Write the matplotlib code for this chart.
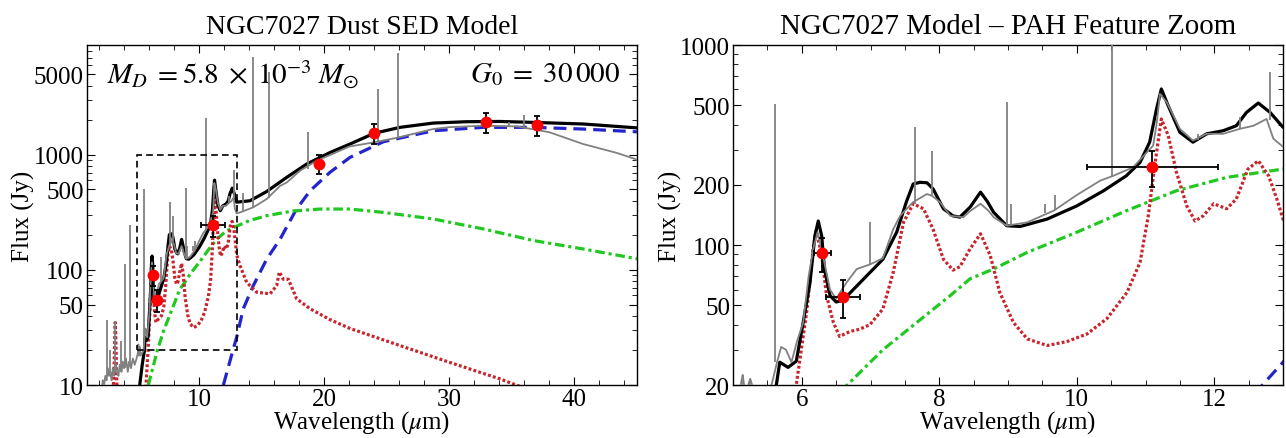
import numpy as np
import matplotlib
matplotlib.use("Agg")
from matplotlib import pyplot as plt
from matplotlib.patches import Rectangle
from matplotlib.ticker import FixedLocator, MultipleLocator, NullFormatter

plt.rcParams['font.family'] = 'serif'
plt.rcParams['font.serif'] = ['Liberation Serif', 'DejaVu Serif']
plt.rcParams['mathtext.fontset'] = 'stix'

obs_wl = [2.2, 2.3, 2.4, 2.5, 2.6, 2.7, 2.8, 2.9, 3.0, 3.1, 3.2, 3.35, 3.45, 3.55,
          3.65, 3.8, 3.9, 4.0, 4.15, 4.3, 4.4, 4.55, 4.7, 4.85, 5.0, 5.1, 5.14,
          5.18, 5.25, 5.32, 5.45, 5.56, 5.64, 5.70, 5.77, 5.85, 5.93, 6.02, 6.10,
          6.17, 6.23, 6.31, 6.41, 6.50, 6.65, 6.80, 6.99, 7.18, 7.33, 7.43, 7.55,
          7.62, 7.82, 7.90, 8.01, 8.16, 8.35, 8.45, 8.60, 8.72, 8.79, 8.98, 9.28,
          9.67, 10.0, 10.34, 10.53, 10.82, 11.02, 11.11, 11.16, 11.21, 11.31,
          11.50, 11.69, 11.89, 12.13, 12.37, 12.57, 12.76, 12.86, 13.0, 13.27,
          14.33, 15.4, 16.47, 17.0, 18.07, 19.4, 20.5, 22.0, 24.0, 26.0, 28.7,
          30.0, 32.7, 35.4, 38.0, 40.7, 43.4, 44.85, 45.0]
obs_flux = [9, 11, 10, 12, 11, 14, 12, 13, 11, 14, 12, 15, 13, 12,
            15, 13, 16, 14, 17, 13, 16, 14, 17, 15, 17, 19, 22.5,
            18, 21.5, 18, 19, 20, 26, 31, 30, 26, 33, 41, 70,
            97, 116, 88, 60, 54, 65, 76, 80, 86, 120, 140, 155,
            164, 180, 176, 164, 140, 138, 148, 161, 148, 138, 125, 130,
            149, 178, 210, 222, 245, 291, 314, 400, 570, 517,
            381, 333, 360, 360, 381, 395, 427, 340, 310, 316,
            350, 413, 537, 575, 728, 889, 1000, 1180, 1285, 1420, 1675,
            1740, 1791, 1766, 1571, 1241, 1038, 920, 900]

# emission lines in the observed spectrum
line_wl = [2.63, 2.88, 3.28, 3.74, 4.05, 4.49, 5.14, 5.25, 5.61, 6.99, 7.65, 7.90,
           8.99, 9.04, 9.54, 9.69, 10.51, 11.76, 12.37, 12.81, 13.5, 14.32,
           15.55, 18.71, 24.32, 25.89, 34.8, 36.01]
line_base = [12, 12, 13, 13, 14, 15, 19, 18, 26, 80, 160, 178,
             125, 125, 145, 150, 222, 335, 381, 420, 320, 350,
             420, 760, 1285, 1410, 1780, 1730]
line_peak = [37, 20, 36, 24, 112, 245, 22.5, 21.5, 505, 130, 390, 297,
             518, 161, 161, 178, 2070, 360, 436, 731, 470, 7030,
             5200, 1570, 3730, 7650, 1940, 2220]

# total model
tot_wl = [5.2, 5.45, 5.63, 5.68, 5.80, 5.92, 6.02, 6.12, 6.19, 6.24, 6.29, 6.33,
          6.41, 6.50, 6.60, 6.75, 6.94, 7.18, 7.38, 7.52, 7.62, 7.72, 7.82, 7.91,
          8.06, 8.20, 8.30, 8.45, 8.60, 8.70, 8.79, 8.98, 9.18, 9.57, 10.0, 10.39,
          10.72, 10.92, 11.06, 11.16, 11.23, 11.33, 11.50, 11.69, 11.89, 12.13,
          12.32, 12.47, 12.64, 12.81, 13.0, 14.07, 15.4, 17.0, 18.6, 20.46,
          22.06, 24.0, 26.06, 28.72, 31.39, 34.0, 36.72, 40.71, 45.0]
tot_flux = [9, 15, 20, 26, 24.5, 26.3, 41, 65, 111, 132, 111, 76,
            56, 52, 53, 60, 70, 85, 116, 164, 202, 206, 205, 191,
            152, 140, 138, 155, 184, 165, 146, 125, 124, 135, 157, 187,
            222, 259, 327, 479, 603, 497, 366, 327, 360, 373,
            395, 461, 513, 461, 388, 399, 480, 637, 832, 1047,
            1241, 1540, 1733, 1888, 1940, 1950, 1914, 1853, 1715]

# PAH component
pah_wl = [3.0, 3.2, 3.27, 3.29, 3.33, 3.4, 3.55, 5.5, 5.75, 5.92, 6.07, 6.17, 6.21,
          6.29, 6.36, 6.46, 6.55, 6.70, 6.84, 6.99, 7.18, 7.33, 7.48, 7.62, 7.77,
          7.91, 8.06, 8.20, 8.30, 8.45, 8.60, 8.74, 8.88, 9.08, 9.28, 9.57, 9.86,
          10.15, 10.44, 10.73, 10.92, 11.04, 11.14, 11.23, 11.33, 11.45, 11.60,
          11.72, 11.84, 11.99, 12.18, 12.32, 12.49, 12.64, 12.79, 12.91, 13.0,
          13.27, 13.8, 14.6, 15.67, 16.2, 16.41, 16.73, 17.13, 17.8, 18.87,
          20.46, 22.06, 26.06, 30.05, 34.05, 36.0]
pah_flux = [4, 14, 30, 35, 28, 12, 4, 5, 10, 20, 46, 99, 118,
            89, 56, 41, 35, 37, 38, 40, 48, 73, 130, 161, 152,
            120, 85, 75, 78, 96, 114, 89, 58, 41, 34, 31.5, 33,
            36, 43, 58, 82, 140, 259, 427, 353, 231, 157,
            132, 140, 161, 152, 170, 240, 264, 222, 170, 135,
            109, 78, 64, 62, 73, 96, 83, 83, 56, 46,
            37, 31, 22, 15.7, 11.3, 9.4]

# very small grains
vsg_wl = [5.94, 6.66, 7.18, 7.67, 8.16, 8.45, 8.79, 9.28, 10.0, 10.73, 11.45, 12.18,
          13.0, 14.0, 15.4, 17.5, 19.66, 22.06, 24.73, 28.72, 32.72, 36.72,
          40.71, 45.0]
vsg_flux = [10, 20, 30, 41, 56, 68, 76, 92, 116, 149, 187, 218,
            240, 268, 296, 325, 338, 338, 316, 277, 227, 180,
            152, 125]

# big grains
bg_wl = [11.94, 12.70, 13.0, 13.53, 14.33, 15.4, 16.47, 17.75, 18.87, 20.46, 22.06,
         24.73, 28.72, 32.72, 36.72, 40.71, 45.0]
bg_flux = [10, 20, 26, 46, 73, 124, 185, 333, 487, 705, 950,
           1300, 1620, 1733, 1733, 1675, 1585]

# photometry points
pts_wl = [6.3, 6.6, 11.1, 19.6, 24.0, 32.9, 37.0]
pts_flux = [91, 55, 245, 840, 1540, 1920, 1820]
pts_wl_err = [0.12, 0.25, 0.95, 0, 0, 0, 0]
pts_flux_err = [18, 12, 50, 165, 310, 385, 365]

full_xlim = (1, 45)
full_ylim = (10, 9000)
zoom_xlim = (5, 13)
zoom_ylim = (20, 1000)

fig = plt.figure(figsize=(12.86, 4.39), dpi=100)
ax1 = fig.add_axes([0.0673, 0.1207, 0.428, 0.7745])
ax2 = fig.add_axes([0.570, 0.1207, 0.4277, 0.7745])


def draw(ax):
    ax.plot(bg_wl, bg_flux, color='#2424cc', lw=2.3, dashes=(4, 2.2), zorder=2)
    ax.plot(vsg_wl, vsg_flux, color='#22c822', lw=2.3, dashes=(3, 1.2, 1, 1.2), zorder=2)
    ax.plot(pah_wl, pah_flux, color='#c8242c', lw=2.3, dashes=(0.9, 0.7), zorder=2)
    ax.plot(tot_wl, tot_flux, color='k', lw=2.3, zorder=3)
    ax.plot(obs_wl, obs_flux, color='#808080', lw=1.3, zorder=4)
    ax.vlines(line_wl, line_base, line_peak, color='#808080', lw=1.3, zorder=4)
    ax.errorbar(pts_wl, pts_flux, xerr=pts_wl_err, yerr=pts_flux_err, fmt='none',
                ecolor='k', elinewidth=1.3, capsize=2.5, capthick=1.3, zorder=5)
    ax.plot(pts_wl, pts_flux, 'o', color='#ff0000', ms=8.5, mec='none', zorder=6)
    ax.set_yscale('log')
    ax.tick_params(which='both', direction='in', top=True, right=True, labelsize=18)
    ax.tick_params(which='major', length=6, width=0.8, pad=2)
    ax.tick_params(which='minor', length=3.5, width=0.6)
    ax.set_xlabel(r'Wavelength ($\mu$m)', fontsize=18)
    ax.set_ylabel('Flux (Jy)', fontsize=18)
    for s in ax.spines.values():
        s.set_linewidth(1.0)


draw(ax1)
ax1.set_xlim(full_xlim)
ax1.set_ylim(full_ylim)
ax1.xaxis.set_major_locator(FixedLocator([10, 20, 30, 40]))
ax1.xaxis.set_minor_locator(MultipleLocator(2))
ax1.yaxis.set_major_locator(FixedLocator([10, 50, 100, 500, 1000, 5000]))
ax1.yaxis.set_major_formatter(plt.FuncFormatter(lambda v, p: '%d' % v))
ax1.yaxis.set_minor_locator(FixedLocator([20, 30, 40, 60, 70, 80, 90, 200, 300, 400,
                                          600, 700, 800, 900, 2000, 3000, 4000,
                                          6000, 7000, 8000]))
ax1.yaxis.set_minor_formatter(NullFormatter())
ax1.add_patch(Rectangle((zoom_xlim[0], zoom_ylim[0]), zoom_xlim[1] - zoom_xlim[0],
                        zoom_ylim[1] - zoom_ylim[0], fill=False, ec='k', lw=1.2,
                        ls=(0, (4, 2.5)), zorder=7))
ax1.set_title('NGC7027 Dust SED Model', fontsize=20, pad=9)
ax1.text(0.037, 0.915, r'$M_D\;=5.8\;\times\;10^{-3}\;M_{\odot}$', transform=ax1.transAxes,
         fontsize=21, ha='left', va='center')
ax1.text(0.969, 0.915, r'$G_0\;=\;30\,000$', transform=ax1.transAxes,
         fontsize=21, ha='right', va='center')

draw(ax2)
ax2.set_xlim(zoom_xlim)
ax2.set_ylim(zoom_ylim)
ax2.xaxis.set_major_locator(FixedLocator([6, 8, 10, 12]))
ax2.xaxis.set_minor_locator(MultipleLocator(0.5))
ax2.yaxis.set_major_locator(FixedLocator([20, 50, 100, 200, 500, 1000]))
ax2.yaxis.set_major_formatter(plt.FuncFormatter(lambda v, p: '%d' % v))
ax2.yaxis.set_minor_locator(FixedLocator([30, 40, 60, 70, 80, 90, 300, 400,
                                          600, 700, 800, 900]))
ax2.yaxis.set_minor_formatter(NullFormatter())
ax2.set_title('NGC7027 Model \u2013 PAH Feature Zoom', fontsize=20.8, pad=9)

for ax in (ax1, ax2):
    ax.yaxis.set_label_coords(-0.093, 0.5)
    ax.xaxis.set_label_coords(0.5, -0.068)

fig.savefig('out.png', dpi=100)
